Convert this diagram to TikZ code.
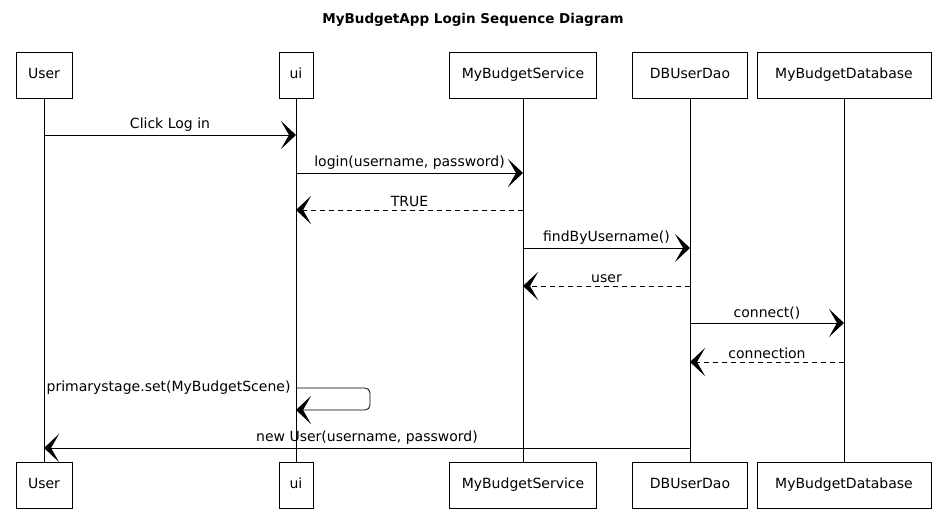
\documentclass[tikz,border=0pt]{standalone}
\usepackage{fontspec}
\setmainfont{DejaVu Sans}
\usetikzlibrary{arrows.meta,positioning}

\begin{document}
\begin{tikzpicture}[x=1pt,y=-1pt,font=\fontsize{14}{16}\selectfont,
	box/.style={draw,line width=0.8pt,minimum height=46pt,inner sep=0pt,text height=10pt,text depth=3pt},
	msg/.style={line width=0.8pt,-{Stealth[length=15pt,width=28pt,inset=8pt]}},
	ret/.style={msg,dash pattern=on 5pt off 4pt}]
	\useasboundingbox (0,0) rectangle (946,532);
	\node[font=\fontsize{13.5}{15}\selectfont\bfseries] (title) at (473,20) {MyBudgetApp Login Sequence Diagram};
	\node[box,minimum width=56pt] (0) at (44,75) {User};
	\node[box,minimum width=34pt] (1) at (296,75) {ui};
	\node[box,minimum width=147pt] (2) at (523,75) {MyBudgetService};
	\node[box,minimum width=115pt] (3) at (690,75) {DBUserDao};
	\node[box,minimum width=174pt] (4) at (844,75) {MyBudgetDatabase};
	\node[box,minimum width=56pt] (5) at (44,485) {User};
	\node[box,minimum width=34pt] (6) at (296,485) {ui};
	\node[box,minimum width=147pt] (7) at (523,485) {MyBudgetService};
	\node[box,minimum width=115pt] (8) at (690,485) {DBUserDao};
	\node[box,minimum width=174pt] (9) at (844,485) {MyBudgetDatabase};
	\draw [line width=0.8pt] (0) to (5);
	\draw [line width=0.8pt] (1) to (6);
	\draw [line width=0.8pt] (2) to (7);
	\draw [line width=0.8pt] (3) to (8);
	\draw [line width=0.8pt] (4) to (9);
	\coordinate (10) at (44,135);
	\coordinate (11) at (296,135);
	\coordinate (12) at (296,173);
	\coordinate (13) at (523,173);
	\coordinate (14) at (523,210);
	\coordinate (15) at (296,210);
	\coordinate (16) at (523,248);
	\coordinate (17) at (690,248);
	\coordinate (18) at (690,286);
	\coordinate (19) at (523,286);
	\coordinate (20) at (690,323);
	\coordinate (21) at (844,323);
	\coordinate (22) at (844,362);
	\coordinate (23) at (690,362);
	\coordinate (24) at (296,388);
	\coordinate (25) at (296,410);
	\coordinate (26) at (690,448);
	\coordinate (27) at (44,448);
	\draw [msg] (10) to node[above] (a) {Click Log in} (11);
	\draw [msg] (12) to node[above] (b) {login(username, password)} (13);
	\draw [ret] (14) to node[above] (c) {TRUE} (15);
	\draw [msg] (16) to node[above] (d) {findByUsername()} (17);
	\draw [ret] (18) to node[above] (e) {user} (19);
	\draw [msg] (20) to node[above] (f) {connect()} (21);
	\draw [ret] (22) to node[above] (g) {connection} (23);
	\draw [msg,rounded corners=5pt] (24) -- ++(74,0) -- ++(0,22) -- (25);
	\node[left=2pt] (h) at (24) {primarystage.set(MyBudgetScene)};
	\draw [msg] (26) to node[above] (i) {new User(username, password)} (27);
\end{tikzpicture}
\end{document}
